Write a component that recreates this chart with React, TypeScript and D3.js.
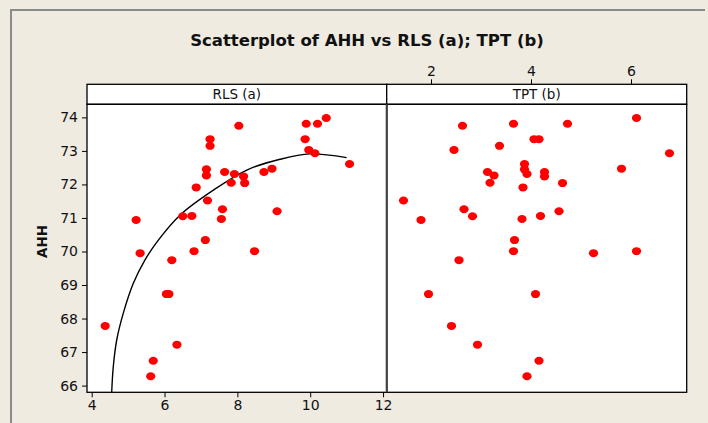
// App.tsx
import React, { useEffect, useRef } from "react";
import * as d3 from "d3";

// AHH (response), RLS (a) and TPT (b), one entry per observation
const ahh = [
  73.98, 73.81, 73.81, 73.75, 73.35, 73.35, 73.15, 73.03, 72.93, 72.61,
  72.47, 72.45, 72.37, 72.37, 72.31, 72.27, 72.24, 72.05, 72.04, 71.91,
  71.52, 71.26, 71.2, 71.05, 71.06, 70.94, 70.97, 70.34, 70.01, 70.01,
  69.95, 69.74, 68.73, 68.73, 67.78, 67.22, 66.74, 66.28,
];
const rls = [
  10.44, 9.89, 10.2, 8.04, 7.25, 9.86, 7.25, 9.96, 10.13, 11.08,
  8.95, 7.15, 7.65, 8.73, 7.92, 7.15, 8.17, 7.83, 8.2, 6.87,
  7.18, 7.59, 9.09, 6.5, 6.75, 5.22, 7.56, 7.12, 6.81, 8.47,
  5.33, 6.2, 6.05, 6.12, 4.37, 6.34, 5.69, 5.62,
];
const tpt = [
  6.11, 3.65, 4.73, 2.63, 4.06, 4.16, 3.37, 2.46, 6.77, 3.87,
  5.81, 3.87, 3.13, 4.27, 3.92, 3.26, 4.27, 3.18, 4.63, 3.84,
  1.45, 2.66, 4.56, 2.83, 4.19, 1.8, 3.82, 3.67, 3.65, 6.11,
  5.25, 2.56, 1.95, 4.09, 2.41, 2.93, 4.16, 3.92,
];

// fitted curve on the RLS panel
const fitRls = [4.549, 4.593, 4.687, 4.868, 5.143, 5.464, 5.83, 6.43, 7.34, 8.26, 9.17, 9.99, 11.0];
const fitAhh = [65.8, 66.57, 67.36, 68.16, 69.05, 69.75, 70.34, 71.09, 71.83, 72.43, 72.75, 72.91, 72.8];

const yTicks = [66, 67, 68, 69, 70, 71, 72, 73, 74];
const rlsTicks = [4, 6, 8, 10, 12];
const tptTicks = [2, 4, 6];

const App = () => {
  const ref = useRef(null);

  useEffect(() => {
    const width = 708;
    const height = 423;
    const top = 104.3;
    const bottom = 392.3;
    const stripTop = 84.3;
    const leftX = 87;
    const midX = 386.7;
    const rightX = 686.7;
    const font = "DejaVu Sans, Verdana, sans-serif";

    d3.select(ref.current).selectAll("*").remove();

    const svg = d3
      .select(ref.current)
      .append("svg")
      .attr("width", width)
      .attr("height", height)
      .style("display", "block");

    svg.append("rect").attr("width", width).attr("height", height).attr("fill", "#efebe1");

    // outer frame
    svg
      .append("path")
      .attr("d", `M11,${height} L11,10 L705,10`)
      .attr("fill", "none")
      .attr("stroke", "#8a8a8a")
      .attr("stroke-width", 2);

    const y = d3.scaleLinear().domain([65.8, 74.39]).range([bottom, top]);
    const xR = d3.scaleLinear().domain([3.871, 12.1]).range([leftX, midX]);
    const xT = d3.scaleLinear().domain([1.114, 7.114]).range([midX, rightX]);

    // panels
    svg.append("rect").attr("x", leftX).attr("y", top).attr("width", midX - leftX).attr("height", bottom - top).attr("fill", "#fff");
    svg.append("rect").attr("x", midX).attr("y", top).attr("width", rightX - midX).attr("height", bottom - top).attr("fill", "#fff");

    // strips
    [
      [leftX, midX, "RLS (a)"],
      [midX, rightX, "TPT (b)"],
    ].forEach(([a, b, label]) => {
      svg
        .append("rect")
        .attr("x", a)
        .attr("y", stripTop)
        .attr("width", b - a)
        .attr("height", top - stripTop)
        .attr("fill", "#fff")
        .attr("stroke", "#000")
        .attr("stroke-width", 1.3);
      svg
        .append("text")
        .attr("x", (a + b) / 2)
        .attr("y", stripTop + 15)
        .attr("text-anchor", "middle")
        .attr("font-family", font)
        .attr("font-size", 13.5)
        .attr("fill", "#111")
        .text(label);
    });

    // title
    svg
      .append("text")
      .attr("x", 367)
      .attr("y", 46)
      .attr("text-anchor", "middle")
      .attr("font-family", font)
      .attr("font-weight", "bold")
      .attr("font-size", 16.5)
      .attr("fill", "#111")
      .text("Scatterplot of AHH vs RLS (a); TPT (b)");

    // axes
    const fmt = d3.format("d");
    const yAxis = svg
      .append("g")
      .attr("transform", `translate(${leftX},0)`)
      .call(d3.axisLeft(y).tickValues(yTicks).tickFormat(fmt).tickSize(5).tickPadding(4));
    const xAxis = svg
      .append("g")
      .attr("transform", `translate(0,${bottom})`)
      .call(d3.axisBottom(xR).tickValues(rlsTicks).tickFormat(fmt).tickSize(5).tickPadding(3));
    const tAxis = svg
      .append("g")
      .attr("transform", `translate(0,${stripTop})`)
      .call(d3.axisTop(xT).tickValues(tptTicks).tickFormat(fmt).tickSize(5).tickPadding(3));
    [yAxis, xAxis, tAxis].forEach((g) => {
      g.select(".domain").remove();
      g.selectAll("text").attr("font-family", font).attr("font-size", 14).attr("fill", "#111");
      g.selectAll("line").attr("stroke", "#000");
    });

    svg
      .append("text")
      .attr("transform", `translate(47,${y(70.3)}) rotate(-90)`)
      .attr("text-anchor", "middle")
      .attr("font-family", font)
      .attr("font-weight", "bold")
      .attr("font-size", 13.5)
      .attr("fill", "#111")
      .text("AHH");

    // clip for the fit line
    svg
      .append("clipPath")
      .attr("id", "clipR")
      .append("rect")
      .attr("x", leftX)
      .attr("y", top)
      .attr("width", midX - leftX)
      .attr("height", bottom - top);

    const line = d3
      .line()
      .x((d) => xR(d[0]))
      .y((d) => y(d[1]))
      .curve(d3.curveCatmullRom.alpha(0.5));

    svg
      .append("path")
      .attr("clip-path", "url(#clipR)")
      .attr("d", line(fitRls.map((v, i) => [v, fitAhh[i]])))
      .attr("fill", "none")
      .attr("stroke", "#000")
      .attr("stroke-width", 1.4);

    // points
    svg
      .append("g")
      .selectAll("ellipse")
      .data(ahh)
      .enter()
      .append("ellipse")
      .attr("cx", (d, i) => xR(rls[i]))
      .attr("cy", (d) => y(d))
      .attr("rx", 4.6)
      .attr("ry", 4)
      .attr("fill", "#ff0000");

    svg
      .append("g")
      .selectAll("ellipse")
      .data(ahh)
      .enter()
      .append("ellipse")
      .attr("cx", (d, i) => xT(tpt[i]))
      .attr("cy", (d) => y(d))
      .attr("rx", 4.6)
      .attr("ry", 4)
      .attr("fill", "#ff0000");

    // panel borders
    [
      [leftX, midX],
      [midX, rightX],
    ].forEach(([a, b]) => {
      svg
        .append("rect")
        .attr("x", a)
        .attr("y", top)
        .attr("width", b - a)
        .attr("height", bottom - top)
        .attr("fill", "none")
        .attr("stroke", "#000")
        .attr("stroke-width", 1.3);
    });
    svg
      .append("line")
      .attr("x1", midX)
      .attr("x2", midX)
      .attr("y1", top)
      .attr("y2", bottom)
      .attr("stroke", "#444")
      .attr("stroke-width", 2);
  }, []);

  return <div ref={ref} style={{ position: "absolute", left: 0, top: 0 }}></div>;
};

export default App;
